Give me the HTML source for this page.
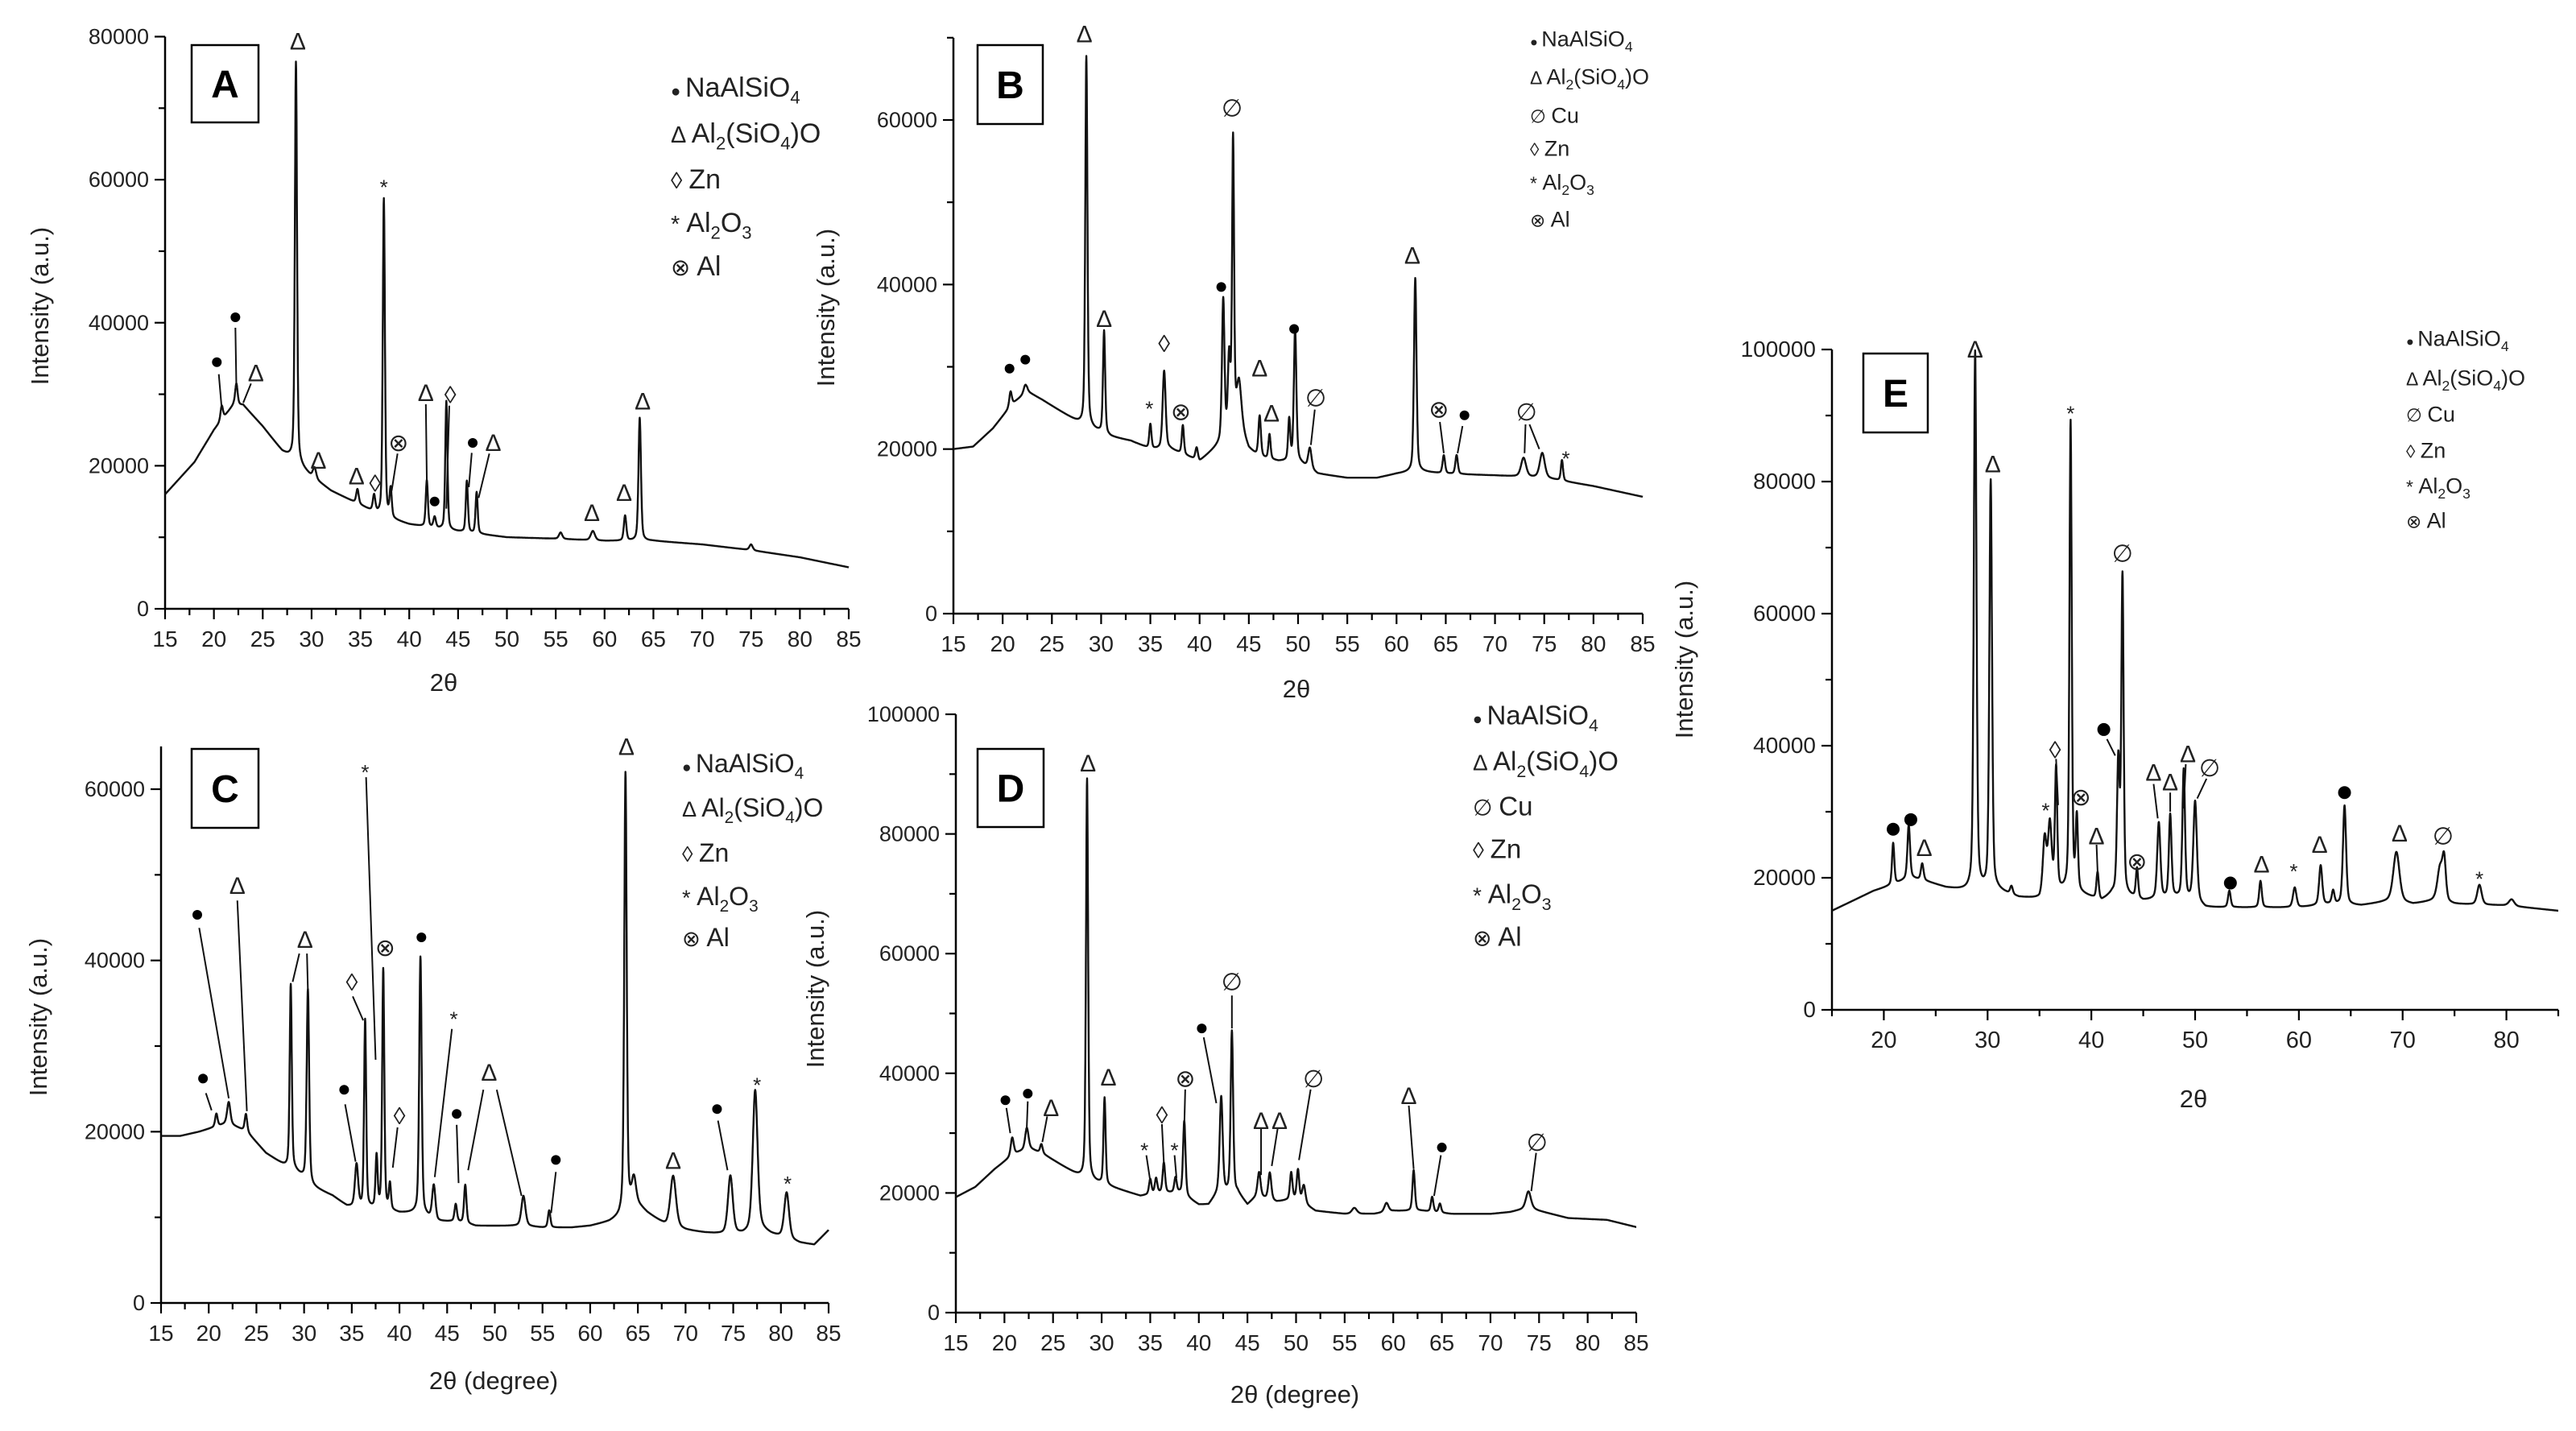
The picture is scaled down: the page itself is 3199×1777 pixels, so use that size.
<!DOCTYPE html>
<html><head><meta charset="utf-8"><style>
html,body{margin:0;padding:0;background:#fff;}
svg{display:block;font-family:"Liberation Sans","DejaVu Sans",sans-serif;}
</style></head><body>
<svg id="fig" width="3199" height="1777" viewBox="0 0 3199 1777" xmlns="http://www.w3.org/2000/svg"></svg>
<script>
// ---------- Panel A data ----------
const aBaseX=[15,18,20,22,23,25,27,28,30,32,35,37,40,45,50,55,60,65,70,75,80,85];
const aBaseY=[16000,20500,25000,28500,28500,25500,22000,21000,18500,16500,14500,13000,11800,10800,10000,9800,9500,9500,9000,8200,7200,5800];
const aPeakX=[20.8,22.3,28.4,30.3,34.7,36.4,37.4,38.1,41.8,42.6,43.8,45.9,46.9,55.5,58.8,62.1,63.6,75];
const aPeakH=[2000,3000,56000,1500,2000,2300,44500,4000,6500,1500,18000,7200,5800,900,1300,3500,17200,800];
const aPeakW=[0.15,0.15,0.13,0.2,0.15,0.15,0.13,0.13,0.13,0.15,0.13,0.13,0.13,0.2,0.25,0.15,0.15,0.2];
const aLblX=[20.3,22.2,24.3,28.6,30.7,34.6,36.5,37.4,38.9,41.7,44.2,42.6,46.5,48.6,58.7,62,63.9];
const aLblY=[34480,40760,32950,79300,20740,18500,17500,59500,23200,30200,29900,15000,23200,23200,13400,16200,29000];
const aLblS=['●','●','Δ','Δ','Δ','Δ','◊','*','⊗','Δ','◊','●','●','Δ','Δ','Δ','Δ'];
const aLead=[[20.5,32800,20.8,28000],[22.2,39300,22.3,31000],[23.8,31500,23,28800],[38.8,21700,38.2,16500],[41.7,28600,41.8,18000],[44.1,28400,43.8,14000],[46.4,21800,46.1,17000],[48.2,21700,47.1,15500]];
// ---------- Panel B data ----------
const bBaseX=[15,17,19,21,22.5,24,26,28,29,31,33,35,37,39,40,42,44,45,46,48,50,52,55,58,60,62,65,70,75,80,85];
const bBaseY=[20000,20300,22500,25500,27000,26000,24500,23000,22500,21500,21000,20000,20000,19000,18500,20500,23000,20000,19000,18500,18500,17000,16500,16500,17000,17300,17000,16800,16500,15500,14200];
const bPeakX=[20.8,22.3,28.5,30.3,35,36.4,38.3,39.7,42.4,43,43.4,44,46.1,47.1,49.1,49.7,51.2,61.9,64.8,66.1,72.9,74.8,76.8];
const bPeakH=[1800,1000,45000,12500,3000,9500,3500,1500,17000,9000,35000,5000,5000,3000,5000,16000,2500,23500,2200,2300,2300,3000,2500];
const bPeakW=[0.15,0.2,0.13,0.13,0.13,0.18,0.13,0.15,0.15,0.15,0.12,0.3,0.15,0.13,0.13,0.15,0.2,0.15,0.15,0.15,0.3,0.3,0.13];
const bLblX=[20.7,22.3,28.3,30.3,34.9,36.4,38.1,42.2,43.3,46.1,47.3,49.6,51.8,61.6,64.3,66.9,73.2,77.2];
const bLblY=[29780,30870,70400,35800,25400,32800,24500,39700,61400,29800,24300,34600,26200,43500,24800,24100,24450,19340];
const bLblS=['●','●','Δ','Δ','*','◊','⊗','●','∅','Δ','Δ','●','∅','Δ','⊗','●','∅','*'];
const bLead=[[51.7,24800,51.3,20500],[64.4,23300,64.8,19500],[66.7,22800,66.2,19500],[73.1,23000,73,19500],[73.5,23000,74.5,20000]];
// ---------- Panel C data ----------
const cBaseX=[15,17,19,20.5,22,24,26,28,29,31,33,34.5,36,38,40,42,44,46,48,50,53,55,58,60,62,63,64.5,66,68,70,72,74,76,78,79,82,83.5,85];
const cBaseY=[19500,19500,20000,20500,21000,20000,17500,16000,15500,13500,12500,11300,11000,11000,10500,10500,9500,9500,9000,9000,9000,8800,8800,9000,9500,10000,12000,10500,9000,8500,8200,8000,8000,8500,8000,7000,6800,8500];
const cPeakX=[20.8,22.1,23.9,28.6,30.4,35.5,36.4,37.6,38.3,39,42.2,43.6,45.9,46.9,53,55.7,63.7,64.6,68.7,74.7,77.3,80.6];
const cPeakH=[1500,2500,2000,21500,22500,5000,22000,6000,28000,3000,30000,4000,2000,4500,3500,2000,51000,2500,6000,6800,16500,5400];
const cPeakW=[0.15,0.2,0.15,0.13,0.15,0.2,0.13,0.13,0.13,0.13,0.15,0.2,0.15,0.15,0.25,0.15,0.15,0.25,0.35,0.3,0.3,0.3];
const cLblX=[18.8,19.4,23,30.1,35,36.4,38.5,40,42.3,34.2,45.7,46,49.4,56.4,63.8,68.7,73.3,77.5,80.7];
const cLblY=[45330,26200,48700,42400,37450,62460,41480,21800,42700,24900,33600,22080,26900,16700,64940,16600,22640,25900,14400];
const cLblS=['●','●','Δ','Δ','◊','*','⊗','◊','●','●','*','●','Δ','●','Δ','Δ','●','*','*'];
const cLead=[[19,43800,22.1,23900],[19.7,24500,20.3,22500],[23,47000,24,22400],[29.5,40800,28.8,37500],[30.3,40800,30.4,36500],[35.1,35800,36.2,33000],[36.5,61400,37.5,28400],[34.3,23200,35.4,16500],[39.8,20500,39.3,15800],[45.5,32000,43.7,14700],[46,20800,46.2,14000],[48.8,24900,47.2,15500],[50.2,24900,52.8,12500],[56.4,15300,55.9,10500],[73.4,21300,74.4,15500]];
// ---------- Panel D data ----------
const dBaseX=[15,17,19,21,22.5,24,26,28,29,31,33,34,36,38,40,41,42,44,45,46,48,50,52,55,58,60,63,66,70,72,74,75,78,82,85];
const dBaseY=[19300,21000,24000,26500,27500,26500,24500,22500,22000,21000,20000,19500,20000,20000,18000,18000,20000,20000,18000,19500,18500,19000,17000,16500,16500,17000,17000,16500,16500,16800,17500,17000,15800,15500,14300];
const dPeakX=[20.8,22.3,23.8,28.5,30.3,35,35.6,36.4,37.6,38.5,42.3,43.4,46.2,47.3,49.5,50.2,50.8,56,59.3,62.1,64,64.8,73.9];
const dPeakH=[3000,3500,1500,67000,14500,2500,2500,5000,2500,12500,16000,27000,4000,4500,4500,5000,3000,1000,1500,6800,2500,1500,2800];
const dPeakW=[0.18,0.2,0.15,0.13,0.13,0.15,0.15,0.15,0.15,0.15,0.18,0.15,0.18,0.18,0.15,0.15,0.2,0.3,0.25,0.15,0.15,0.15,0.3];
const dLblX=[20.1,22.4,24.8,28.6,30.7,34.4,36.2,37.5,38.6,40.3,43.4,46.4,48.3,51.8,61.6,65,74.8];
const dLblY=[35500,36600,34200,91800,39300,27800,33000,27800,39100,47500,55250,32000,32000,39000,36200,27600,28400];
const dLblS=['●','●','Δ','Δ','Δ','*','◊','*','⊗','●','∅','Δ','Δ','∅','Δ','●','∅'];
const dLead=[[20.2,34200,20.6,30000],[22.4,35300,22.3,31000],[24.4,32800,23.9,28500],[34.6,26300,35,22000],[36.2,31500,36.4,25000],[37.5,26300,37.7,22500],[38.6,37300,38.5,31000],[40.5,46000,41.8,35000],[43.4,53000,43.4,47500],[46.4,30700,46.4,23000],[48.1,30700,47.5,24500],[51.5,37300,50.3,25500],[61.6,34600,62.1,24000],[64.9,26300,64.2,19500],[74.7,26700,74.2,20300]];
// ---------- Panel E data ----------
const eBaseX=[15,17,19,21,22.5,24,26,28,31,33,35,36,37,38,40,41,42,44,45,48,50,51,55,60,63,66,69,71,73,75,80,85];
const eBaseY=[15000,16500,18000,19000,20000,19500,18500,18000,18000,17000,16800,19000,18000,18000,17000,16500,17500,17000,16500,17000,16500,15500,15500,15500,16000,15800,16500,16000,16500,16000,15800,15000];
const ePeakX=[20.9,22.4,23.7,28.8,30.3,32.3,35.5,36,36.6,38,38.6,40.6,42.6,43,44.4,46.5,47.6,48.9,50,53.3,56.3,59.6,62.1,63.3,64.4,69.4,73.6,74,77.4,80.5];
const ePeakH=[6300,8000,2500,81600,62000,1200,8000,9000,18000,71000,11000,4000,20000,48000,4500,11500,12500,19500,15000,2500,4000,3000,6000,2000,15000,7500,5000,6000,3000,1000];
const ePeakW=[0.13,0.15,0.15,0.15,0.15,0.15,0.2,0.2,0.13,0.13,0.13,0.13,0.15,0.13,0.13,0.18,0.15,0.15,0.2,0.15,0.15,0.2,0.18,0.15,0.18,0.35,0.3,0.2,0.25,0.3];
const eLblX=[20.9,22.6,23.9,28.8,30.5,35.6,36.5,38,39,41.2,43,44.4,40.5,46,47.6,49.3,51.4,53.4,56.4,59.5,62,64.4,69.7,73.9,77.4];
const eLblY=[27350,28800,24500,100000,82600,30800,39350,90900,32200,42450,69100,22450,26300,35900,34450,38700,36600,19200,22000,21600,25000,32900,26700,26300,20400];
const eLblS=['●','●','Δ','Δ','Δ','*','◊','*','⊗','●','∅','⊗','Δ','Δ','Δ','Δ','∅','●','Δ','*','Δ','●','Δ','∅','*'];
const eLead=[[41.5,41000,42.3,38500],[51.1,35000,50.2,32000],[46,34200,46.4,29000],[47.6,32900,47.6,30000],[49.1,37200,48.9,30500],[36.6,38000,36.8,31000],[40.5,25000,40.6,21000]];

const NS='http://www.w3.org/2000/svg';
const svg=document.getElementById('fig');
function mk(tag,attrs,parent){const e=document.createElementNS(NS,tag);for(const k in attrs)e.setAttribute(k,attrs[k]);(parent||svg).appendChild(e);return e;}

const panels=[
 {id:'a',letter:'A',px15:205,px85:1054,py0:756,pyRef:45.5,ref:80000,ymaxAxis:80000,ystep:20000,xstep:5,xfirst:15,
  base:[aBaseX,aBaseY],peak:[aPeakX,aPeakH,aPeakW],lbl:[aLblX,aLblY,aLblS],lead:aLead,
  box:[238,56,83,96],xt:'2θ',xtPos:[551,858],ytPos:[52,380],fs:27,
  leg:{x:833,ys:[108,165,222,276,330],fs:34,items:[0,1,3,4,5]},lfs:30},
 {id:'b',letter:'B',px15:1184,px85:2040,py0:762,pyRef:149,ref:60000,ymaxAxis:70000,ystep:20000,xstep:5,xfirst:15,
  base:[bBaseX,bBaseY],peak:[bPeakX,bPeakH,bPeakW],lbl:[bLblX,bLblY,bLblS],lead:bLead,
  box:[1214,56,81,98],xt:'2θ',xtPos:[1610,866],ytPos:[1028,382],fs:27,
  leg:{x:1900,ys:[48,95,143,184,226,272],fs:27,items:[0,1,2,3,4,5]},lfs:30},
 {id:'c',letter:'C',px15:200,px85:1029,py0:1618,pyRef:980,ref:60000,ymaxAxis:65000,ystep:20000,xstep:5,xfirst:15,
  base:[cBaseX,cBaseY],peak:[cPeakX,cPeakH,cPeakW],lbl:[cLblX,cLblY,cLblS],lead:cLead,
  box:[238,930,83,98],xt:'2θ  (degree)',xtPos:[613,1725],ytPos:[50,1263],fs:27,
  leg:{x:847,ys:[948,1003,1059,1113,1164],fs:32,items:[0,1,3,4,5]},lfs:30},
 {id:'d',letter:'D',px15:1187,px85:2032,py0:1630,pyRef:887,ref:100000,ymaxAxis:100000,ystep:20000,xstep:5,xfirst:15,
  base:[dBaseX,dBaseY],peak:[dPeakX,dPeakH,dPeakW],lbl:[dLblX,dLblY,dLblS],lead:dLead,
  box:[1214,930,82,97],xt:'2θ (degree)',xtPos:[1608,1742],ytPos:[1015,1228],fs:27,
  leg:{x:1829,ys:[888,945,1001,1054,1110,1163],fs:33,items:[0,1,2,3,4,5]},lfs:30},
 {id:'e',letter:'E',px15:2275,px85:3177,py0:1254,pyRef:434,ref:100000,ymaxAxis:100000,ystep:20000,xstep:10,xfirst:20,
  base:[eBaseX,eBaseY],peak:[ePeakX,ePeakH,ePeakW],lbl:[eLblX,eLblY,eLblS],lead:eLead,
  box:[2314,439,80,98],xt:'2θ',xtPos:[2724,1375],ytPos:[2094,819],fs:28,
  leg:{x:2988,ys:[420,469,514,559,603,646],fs:27,items:[0,1,2,3,4,5]},lfs:30}
];
const legendDefs=[
 {sym:'●',t:[['NaAlSiO',0],['4',1]]},
 {sym:'Δ',t:[['Al',0],['2',1],['(SiO',0],['4',1],[')O',0]]},
 {sym:'∅',t:[['Cu',0]]},
 {sym:'◊',t:[['Zn',0]]},
 {sym:'*',t:[['Al',0],['2',1],['O',0],['3',1]]},
 {sym:'⊗',t:[['Al',0]]}
];
function interp(xs,ys,x){if(x<=xs[0])return ys[0];for(let i=1;i<xs.length;i++){if(x<=xs[i]){const t=(x-xs[i-1])/(xs[i]-xs[i-1]);return ys[i-1]+t*(ys[i]-ys[i-1]);}}return ys[ys.length-1];}

panels.forEach(p=>{
  const g=mk('g',{});
  
  
  const sx=x=>p.px15+(x-15)*(p.px85-p.px15)/70;
  const sy=v=>p.py0-(v)*(p.py0-p.pyRef)/p.ref;
  const yTop=sy(p.ymaxAxis);
  const ax=mk('path',{d:`M${p.px15},${yTop}V${p.py0}H${p.px85}`,fill:'none',stroke:'#000','stroke-width':2.5},g);
  
  
  for(let v=0;v<=p.ymaxAxis+1;v+=p.ystep/2){
    const major=(v%p.ystep===0);
    mk('line',{x1:p.px15,x2:p.px15-(major?13:8),y1:sy(v),y2:sy(v),stroke:'#000','stroke-width':2.2},g);
    if(major&&v<=p.ref+1){
      const t=mk('text',{x:p.px15-20,y:sy(v)+9,'text-anchor':'end','font-size':p.fs,fill:'#222'},g);
      t.textContent=String(v);
      
      
    }
  }
  for(let x=15;x<=85.01;x+=p.xstep/2){
    const major=((x-p.xfirst)%p.xstep===0)&&x>=p.xfirst;
    mk('line',{x1:sx(x),x2:sx(x),y1:p.py0,y2:p.py0+(major?13:8),stroke:'#000','stroke-width':2.2},g);
    if(major){
      const t=mk('text',{x:sx(x),y:p.py0+47,'text-anchor':'middle','font-size':p.fs+1,fill:'#222'},g);
      t.textContent=String(x);
      
      
    }
  }
  const xt=mk('text',{x:p.xtPos[0],y:p.xtPos[1],'text-anchor':'middle','font-size':31,fill:'#222'},g);
  xt.textContent=p.xt;
  
  
  const yt=mk('text',{x:p.ytPos[0],y:p.ytPos[1],'text-anchor':'middle','font-size':31,fill:'#222',transform:`rotate(-90 ${p.ytPos[0]} ${p.ytPos[1]})`,'dominant-baseline':'middle'},g);
  yt.textContent='Intensity (a.u.)';
  
  
  const [bx,by]=p.base,[pk,ph,pw]=p.peak;
  let d='';
  for(let x=15;x<=85.0001;x+=0.02){
    let v=interp(bx,by,x);
    for(let i=0;i<pk.length;i++){const u=(x-pk[i])/pw[i];v+=ph[i]*(0.6*Math.exp(-0.693*u*u)+0.4/(1+u*u));}
    d+=(d?'L':'M')+sx(x).toFixed(1)+','+sy(v).toFixed(1);
  }
  const cv=mk('path',{d:d,fill:'none',stroke:'#111','stroke-width':2.4,'stroke-linejoin':'round'},g);
  
  
  p.lead.forEach(L=>{
    const l=mk('line',{x1:sx(L[0]),y1:sy(L[1]),x2:sx(L[2]),y2:sy(L[3]),stroke:'#111','stroke-width':2},g);
    
    
  });
  const [lx,ly,ls]=p.lbl;
  for(let i=0;i<lx.length;i++){
    let el;
    if(ls[i]==='●'){el=mk('circle',{cx:sx(lx[i]),cy:sy(ly[i]),r:p.id==='e'?8:6,fill:'#000'},g);}
    else{el=mk('text',{x:sx(lx[i]),y:sy(ly[i])+(ls[i]==='*'?14:10),'text-anchor':'middle','font-size':ls[i]==='*'?26:p.lfs,fill:'#222'},g);el.textContent=ls[i];}
    
    
  }
  const [bxp,byp,bw,bh]=p.box;
  const rb=mk('rect',{x:bxp,y:byp,width:bw,height:bh,fill:'#fff',stroke:'#000','stroke-width':2.5},g);
  
  
  const lt=mk('text',{x:bxp+bw/2,y:byp+bh/2+17,'text-anchor':'middle','font-size':48,'font-weight':'bold',fill:'#000'},g);
  lt.textContent=p.letter;
  
  
  const lg=mk('g',{},g);
  
  
  p.leg.items.forEach((k,j)=>{
    const def=legendDefs[k],fs=p.leg.fs,y=p.leg.ys[j]+fs*0.35;
    const t=mk('text',{x:p.leg.x,y:y,'font-size':fs,fill:'#222'},lg);
    
    
    const s=mk('tspan',{'font-size':def.sym==='●'?fs*0.6:fs*0.85},t);s.textContent=def.sym+' ';
    def.t.forEach(([txt,sub])=>{
      const ts=mk('tspan',sub?{'font-size':fs*0.65,dy:fs*0.25}:{'font-size':fs,dy:0},t);
      ts.textContent=txt;
      if(sub){const r=mk('tspan',{dy:-fs*0.25,'font-size':1},t);r.textContent='\u200b';}
    });
  });
  svg.appendChild(g);
});
</script>
</body></html>
